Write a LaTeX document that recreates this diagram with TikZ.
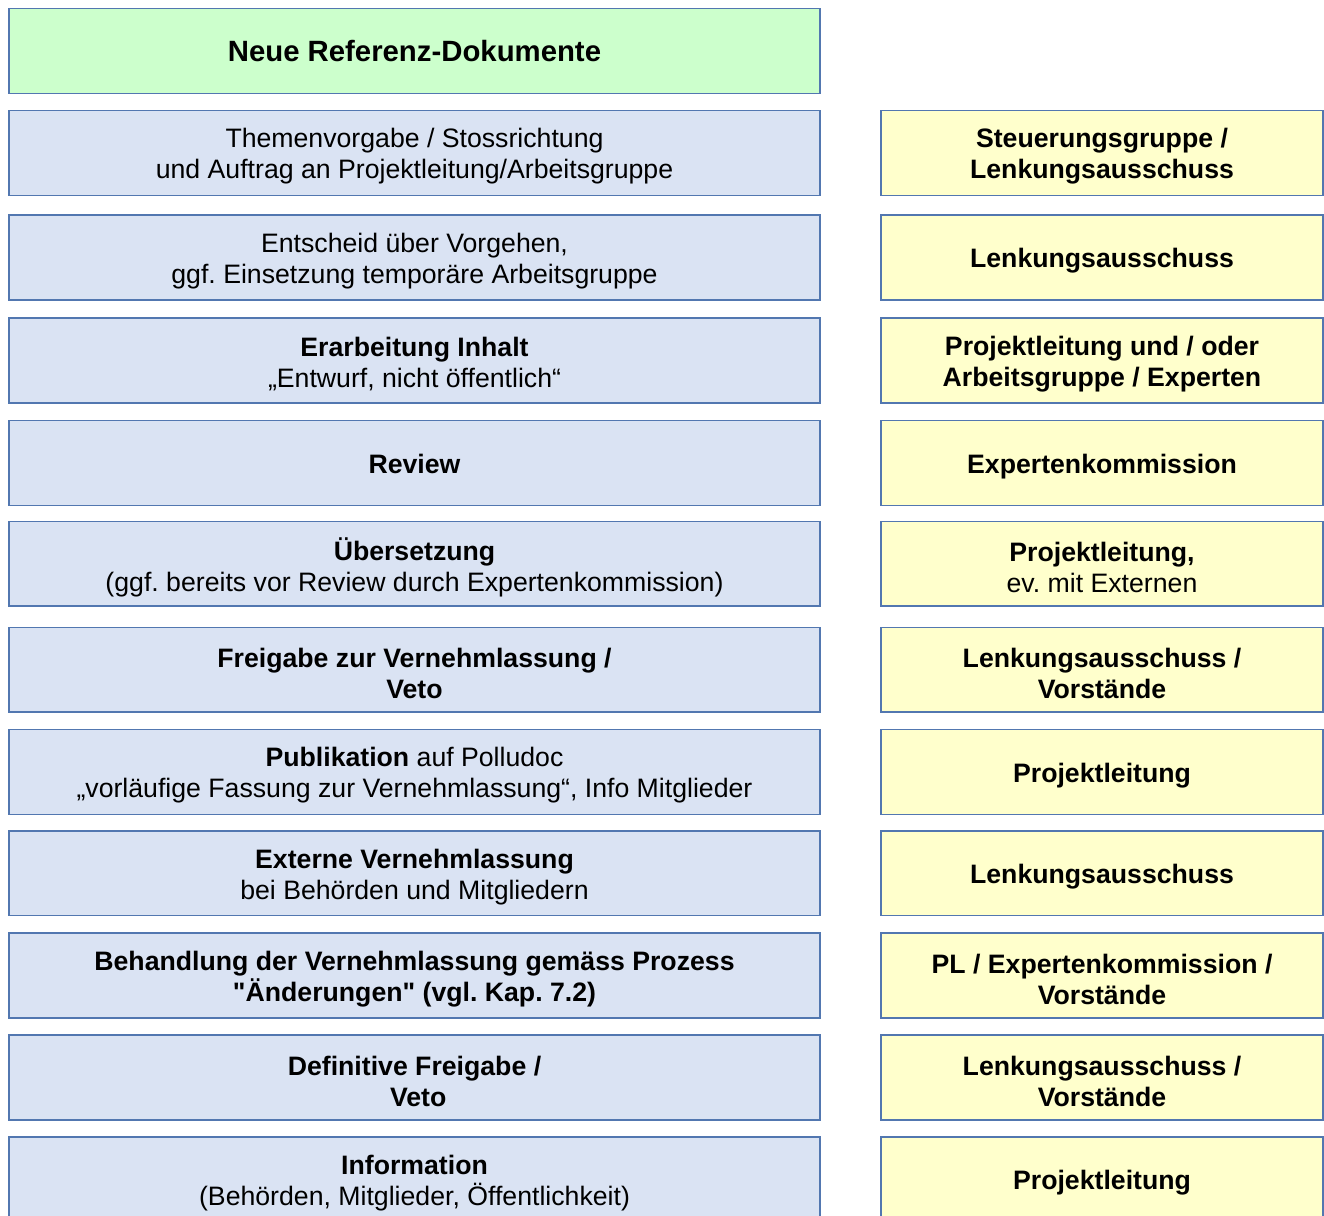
\documentclass[tikz,border=0pt]{standalone}
\usepackage{fontspec}
\setmainfont{Liberation Sans}[Ligatures=TeXOff]
\frenchspacing
\definecolor{bord}{HTML}{5277B0}
\definecolor{bluefill}{HTML}{DAE3F3}
\definecolor{yelfill}{HTML}{FFFFCC}
\definecolor{grnfill}{HTML}{CCFFCC}
\tikzset{
  boxbase/.style={draw=bord, line width=1.1pt, inner sep=0pt, minimum height=63.5pt},
  lbox/.style={boxbase, fill=bluefill, minimum width=608.25pt},
  rbox/.style={boxbase, fill=yelfill, minimum width=331.5pt},
  gbox/.style={boxbase, fill=grnfill, minimum width=608.25pt},
  bt/.style={inner sep=0pt, align=center, yshift=-2.6pt, font=\fontsize{20}{23.25}\selectfont},
  tt/.style={bt, font=\fontsize{22}{25}\selectfont\bfseries}
}
\begin{document}
\begin{tikzpicture}[x=0.75pt,y=-0.75pt]
\useasboundingbox (0,0) rectangle (1324,1215);
\node[gbox, label={[tt]center:Neue Referenz-Dokumente\vphantom{g}}] (g) at (414.5,51) {};

\node[lbox, label={[bt]center:Themenvorgabe / Stossrichtung\\und Auftrag an Projektleitung/Arbeitsgruppe}] (l1) at (414.5,153) {};
\node[rbox, label={[bt]center:\textbf{Steuerungsgruppe /}\\\textbf{Lenkungsausschuss}}] (r1) at (1102,153) {};

\node[lbox, label={[bt]center:Entscheid über Vorgehen,\\ggf. Einsetzung temporäre Arbeitsgruppe}] (l2) at (414.5,257.5) {};
\node[rbox, label={[bt]center:\textbf{Lenkungsausschuss}}] (r2) at (1102,257.5) {};

\node[lbox, label={[bt]center:\textbf{Erarbeitung Inhalt}\\„Entwurf, nicht öffentlich“}] (l3) at (414.5,360.5) {};
\node[rbox, label={[bt]center:\textbf{Projektleitung und / oder}\\\textbf{Arbeitsgruppe / Experten}}] (r3) at (1102,360.5) {};

\node[lbox, label={[bt]center:\textbf{Review}\vphantom{g}}] (l4) at (414.5,463) {};
\node[rbox, label={[bt]center:\textbf{Expertenkommission}}] (r4) at (1102,463) {};

\node[lbox, label={[bt]center:\textbf{Übersetzung}\\(ggf. bereits vor Review durch Expertenkommission)}] (l5) at (414.5,563.75) {};
\node[rbox, label={[bt]center:\textbf{Projektleitung,}\\ev. mit Externen}] (r5) at (1102,563.75) {};

\node[lbox, label={[bt]center:\textbf{Freigabe zur Vernehmlassung /}\\\textbf{Veto}}] (l6) at (414.5,669.75) {};
\node[rbox, label={[bt]center:\textbf{Lenkungsausschuss /}\\\textbf{Vorstände}}] (r6) at (1102,669.75) {};

\node[lbox, label={[bt]center:\textbf{Publikation} auf Polludoc\\„vorläufige Fassung zur Vernehmlassung“, Info Mitglieder}] (l7) at (414.5,772) {};
\node[rbox, label={[bt]center:\textbf{Projektleitung}}] (r7) at (1102,772) {};

\node[lbox, label={[bt]center:\textbf{Externe Vernehmlassung}\\bei Behörden und Mitgliedern}] (l8) at (414.5,873.25) {};
\node[rbox, label={[bt]center:\textbf{Lenkungsausschuss}}] (r8) at (1102,873.25) {};

\node[lbox, label={[bt]center:\textbf{Behandlung der Vernehmlassung gemäss Prozess}\\\textbf{"Änderungen" (vgl. Kap. 7.2)}}] (l9) at (414.5,975.5) {};
\node[rbox, label={[bt]center:\textbf{PL / Expertenkommission /}\\\textbf{Vorstände}}] (r9) at (1102,975.5) {};

\node[lbox, label={[bt]center:\textbf{Definitive Freigabe /}\\\hspace*{0.278em}\textbf{Veto}}] (l10) at (414.5,1077.5) {};
\node[rbox, label={[bt]center:\textbf{Lenkungsausschuss /}\\\textbf{Vorstände}}] (r10) at (1102,1077.5) {};

\node[lbox, label={[bt]center:\textbf{Information}\\(Behörden, Mitglieder, Öffentlichkeit)}] (l11) at (414.5,1179.5) {};
\node[rbox, label={[bt]center:\textbf{Projektleitung}}] (r11) at (1102,1179.5) {};
\end{tikzpicture}
\end{document}
